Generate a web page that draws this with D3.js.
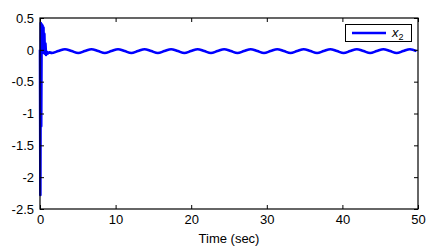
<!DOCTYPE html>
<html><head><meta charset="utf-8">
<script src="https://cdn.jsdelivr.net/npm/d3@7"></script>
<style>body{margin:0;background:#fff}svg{display:block}text{font-family:"Liberation Sans",Arial,sans-serif}</style>
</head><body>
<svg id="c" width="443" height="251"></svg>
<script>
// Data: time (sec) and x2
const transientT = [0, 0.05, 0.1, 0.16, 0.22, 0.28, 0.34, 0.4, 0.46, 0.52, 0.58, 0.64, 0.72, 0.8, 0.9, 1.0, 1.2];
const transientV = [0.0, -2.28, 0.42, -1.2, 0.4, 0.02, 0.38, -0.02, 0.35, -0.05, 0.25, -0.06, 0.1, -0.08, -0.03, -0.06, -0.04];
const waveT = [1.55, 2.42, 3.30, 4.18, 5.06, 5.93, 6.81, 7.69, 8.57, 9.44, 10.32, 11.20, 12.08, 12.95, 13.83, 14.71, 15.59, 16.46, 17.34, 18.22, 19.10, 19.97, 20.85, 21.73, 22.61, 23.48, 24.36, 25.24, 26.12, 26.99, 27.87, 28.75, 29.63, 30.50, 31.38, 32.26, 33.14, 34.01, 34.89, 35.77, 36.65, 37.52, 38.40, 39.28, 40.16, 41.03, 41.91, 42.79, 43.67, 44.54, 45.42, 46.30, 47.18, 48.05, 48.93, 49.81];
const waveV = [-0.05, -0.02, 0.01, -0.02, -0.05, -0.02, 0.01, -0.02, -0.05, -0.02, 0.01, -0.02, -0.05, -0.02, 0.01, -0.02, -0.05, -0.02, 0.01, -0.02, -0.05, -0.02, 0.01, -0.02, -0.05, -0.02, 0.01, -0.02, -0.05, -0.02, 0.01, -0.02, -0.05, -0.02, 0.01, -0.02, -0.05, -0.02, 0.01, -0.02, -0.05, -0.02, 0.01, -0.02, -0.05, -0.02, 0.01, -0.02, -0.05, -0.02, 0.01, -0.02, -0.05, -0.02, 0.01, -0.02];
const xTicks = [0, 10, 20, 30, 40, 50];
const yTicks = [0.5, 0, -0.5, -1, -1.5, -2, -2.5];
const xLabel = "Time (sec)";
const seriesName = "x";
const seriesSub = "2";

const svg = d3.select("#c");
const L = 40, R = 418, T = 18, B = 209;
const x = d3.scaleLinear().domain([0, 50]).range([L, R]);
const y = d3.scaleLinear().domain([-2.5, 0.5]).range([B, T]);

const pts = transientT.map((t, i) => [t, transientV[i]]).concat(waveT.map((t, i) => [t, waveV[i]]));
const lineT = d3.line().x(d => x(d[0])).y(d => y(d[1]));
const tr = pts.slice(0, transientT.length + 1);
const wv = pts.slice(transientT.length - 1);
svg.append("path").attr("d", lineT(tr)).attr("fill", "none").attr("stroke", "#0000ff").attr("stroke-width", 2.6).attr("stroke-linejoin", "round");
svg.append("path").attr("d", lineT.curve(d3.curveCatmullRom)(wv)).attr("fill", "none").attr("stroke", "#0000ff").attr("stroke-width", 2.6);

// axes (MATLAB box style, ticks inward)
const gx = svg.append("g").attr("transform", `translate(0,${B})`)
  .call(d3.axisBottom(x).tickValues(xTicks).tickSize(-4).tickPadding(6).tickFormat(d3.format("d")));
const gxt = svg.append("g").attr("transform", `translate(0,${T})`)
  .call(d3.axisTop(x).tickValues(xTicks).tickSize(-4).tickFormat(""));
const gy = svg.append("g").attr("transform", `translate(${L},0)`)
  .call(d3.axisLeft(y).tickValues(yTicks).tickSize(-4).tickPadding(6).tickFormat(d => d3.format("")(d).replace("−", "-")));
const gyr = svg.append("g").attr("transform", `translate(${R},0)`)
  .call(d3.axisRight(y).tickValues(yTicks).tickSize(-4).tickFormat(""));
[gx, gxt, gy, gyr].forEach(g => {
  g.select(".domain").remove();
  g.selectAll("line").attr("stroke", "#000");
  g.selectAll("text").attr("font-size", 13).attr("fill", "#000").attr("font-family", '"Liberation Sans",Arial,sans-serif');
});
gx.selectAll("text").attr("dy", "0.71em");
svg.append("rect").attr("x", L).attr("y", T).attr("width", R - L).attr("height", B - T)
  .attr("fill", "none").attr("stroke", "#000").attr("stroke-width", 1.2);

svg.append("text").attr("x", (L + R) / 2).attr("y", 243).attr("text-anchor", "middle")
  .attr("font-size", 13).text(xLabel);

// legend
const lg = svg.append("g");
lg.append("rect").attr("x", 345.5).attr("y", 24.5).attr("width", 66).attr("height", 17)
  .attr("fill", "#fff").attr("stroke", "#000").attr("stroke-width", 1);
lg.append("line").attr("x1", 352).attr("x2", 386).attr("y1", 33).attr("y2", 33)
  .attr("stroke", "#0000ff").attr("stroke-width", 2.6);
const lt = lg.append("text").attr("x", 392).attr("y", 37).attr("font-family", '"DejaVu Serif","Liberation Serif",serif')
  .attr("font-style", "italic").attr("font-size", 13).attr("fill", "#000");
lt.append("tspan").text(seriesName);
lt.append("tspan").attr("font-size", 9).attr("dy", 3).attr("font-style", "normal").text(seriesSub);
</script>
</body></html>
